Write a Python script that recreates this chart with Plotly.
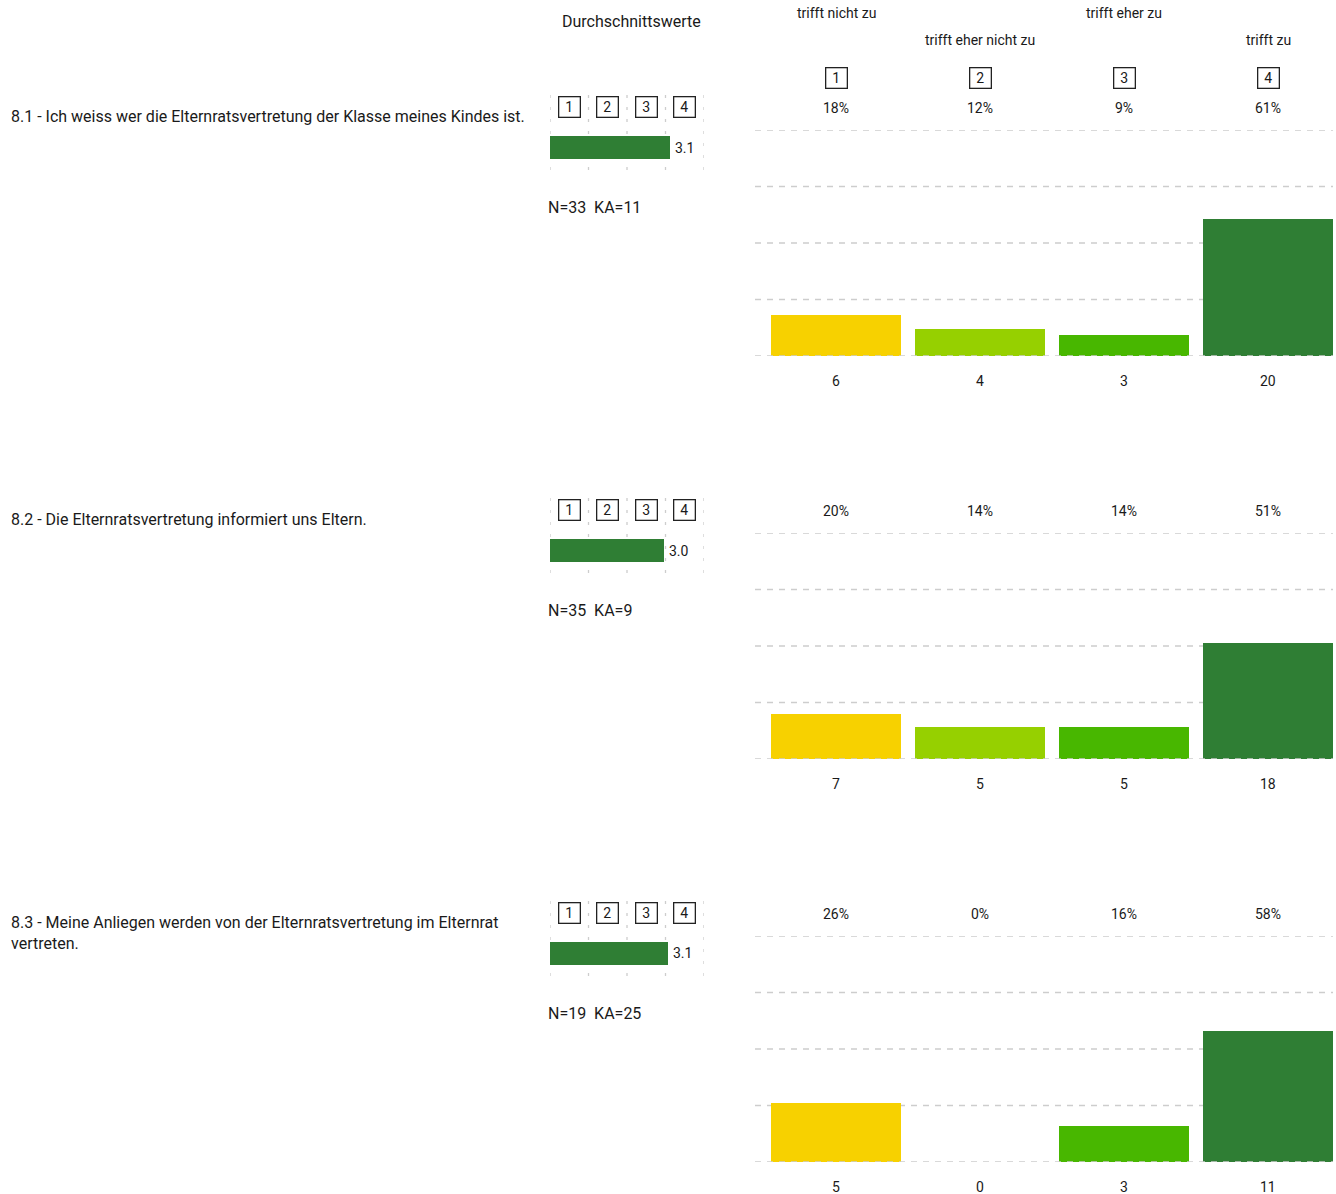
import plotly.graph_objects as go

# Survey data
questions = [
    "8.1 - Ich weiss wer die Elternratsvertretung der Klasse meines Kindes ist.",
    "8.2 - Die Elternratsvertretung informiert uns Eltern.",
    "8.3 - Meine Anliegen werden von der Elternratsvertretung im Elternrat<br>vertreten.",
]
scale_labels = ["trifft nicht zu", "trifft eher nicht zu", "trifft eher zu", "trifft zu"]
scale_codes = ["1", "2", "3", "4"]
counts_q1 = [6, 4, 3, 20]
counts_q2 = [7, 5, 5, 18]
counts_q3 = [5, 0, 3, 11]
no_answer = [11, 9, 25]

all_counts = [counts_q1, counts_q2, counts_q3]
bar_colors = ["#F7D100", "#96D000", "#48B700", "#2F7E34"]
mean_color = "#2F7E34"
text_color = "#1a1a1a"
grid_color = "#cdcdcd"
FONT = "Roboto"

W, H = 1336, 1194


def px_x(x):
    return x / W


def px_y(y):
    return 1 - y / H


fig = go.Figure()
annotations = []
shapes = []

# layout geometry (pixels)
mean_x0, mean_x1 = 550, 704
count_x0, count_x1 = 755, 1336
cat_step = 144
cat_center0 = 836
x_lo = (count_x0 - cat_center0) / cat_step
x_hi = (count_x1 - cat_center0) / cat_step
grid_hi = (1333 - cat_center0) / cat_step
row_tops = [107, 510, 913]

layout_axes = {}

for i, (question, counts, ka) in enumerate(zip(questions, all_counts, no_answer)):
    top = row_tops[i]
    n = sum(counts)
    mean = sum((k + 1) * c for k, c in enumerate(counts)) / n
    pcts = [round(100 * c / n) for c in counts]

    mx = f"x{2 * i + 1}"
    my = f"y{2 * i + 1}"
    cx = f"x{2 * i + 2}"
    cy = f"y{2 * i + 2}"

    # mean bar panel
    m_top, m_bot = top - 12, top + 63
    bar_center = top + 40.5
    fig.add_trace(go.Bar(
        x=[mean], y=[(m_bot - bar_center) / (m_bot - m_top)], base=0,
        width=23 / (m_bot - m_top), orientation="h",
        marker=dict(color=mean_color, line=dict(width=0)),
        xaxis=mx, yaxis=my, hoverinfo="skip", showlegend=False,
    ))
    layout_axes["xaxis" + ("" if i == 0 else str(2 * i + 1))] = dict(
        domain=[px_x(mean_x0), px_x(mean_x1)], range=[0, 4], anchor=my,
        showticklabels=False, ticks="", showgrid=False,
        zeroline=False, showline=False, fixedrange=True,
    )
    layout_axes[f"yaxis{2 * i + 1}" if i > 0 else "yaxis"] = dict(
        domain=[px_y(m_bot), px_y(m_top)], range=[0, 1], anchor=mx,
        showticklabels=False, showgrid=False, zeroline=False, ticks="",
        fixedrange=True,
    )
    for v in range(5):
        shapes.append(dict(
            type="line", xref=mx, yref=my, x0=v, x1=v, y0=0, y1=1,
            line=dict(color=grid_color, width=1.3, dash="3px,9px"), layer="below",
        ))

    # count bar panel
    c_top, c_bot = top + 23, top + 249
    fig.add_trace(go.Bar(
        x=[0, 1, 2, 3], y=counts, width=130 / cat_step,
        marker=dict(color=bar_colors, line=dict(width=0)),
        xaxis=cx, yaxis=cy, hoverinfo="skip", showlegend=False,
    ))
    layout_axes[f"xaxis{2 * i + 2}"] = dict(
        domain=[px_x(count_x0), px_x(count_x1)], range=[x_lo, x_hi], anchor=cy,
        showticklabels=False, showgrid=False, zeroline=False, ticks="",
        fixedrange=True,
    )
    layout_axes[f"yaxis{2 * i + 2}"] = dict(
        domain=[px_y(c_bot), px_y(c_top)], range=[0, n], anchor=cx,
        showticklabels=False, ticks="", showgrid=False,
        zeroline=False, fixedrange=True,
    )
    for v in [0, n / 4, n / 2, 3 * n / 4, n]:
        shapes.append(dict(
            type="line", xref=cx, yref=cy, x0=x_lo, x1=grid_hi, y0=v, y1=v,
            line=dict(color=grid_color, width=1.3, dash="6px,6px"),
            layer="above" if v == 0 else "below",
        ))

    # question text
    annotations.append(dict(
        text=question, x=px_x(9), y=px_y(top - 2), xref="paper", yref="paper",
        xanchor="left", yanchor="top", align="left", showarrow=False,
        font=dict(family=FONT, size=16, color=text_color),
    ))

    # scale boxes above the mean bar
    for k, code in enumerate(scale_codes):
        annotations.append(dict(
            text=code, x=k + 0.5, y=px_y(top), xref=mx, yref="paper",
            xanchor="center", yanchor="middle", showarrow=False,
            width=20, height=19, borderwidth=1.3, bordercolor="#222", borderpad=0,
            font=dict(family=FONT, size=14, color=text_color),
        ))

    # mean value label
    annotations.append(dict(
        text=f"{mean:.1f}", x=mean, y=px_y(bar_center), xref=mx, yref="paper",
        xanchor="left", yanchor="middle", xshift=3, showarrow=False,
        font=dict(family=FONT, size=14, color=text_color),
    ))

    # N / KA line
    annotations.append(dict(
        text=f"N={n}  KA={ka}", x=px_x(546), y=px_y(top + 100), xref="paper", yref="paper",
        xanchor="left", yanchor="middle", showarrow=False,
        font=dict(family=FONT, size=16, color=text_color),
    ))

    # percentages above, counts below
    for k in range(4):
        annotations.append(dict(
            text=f"{pcts[k]}%", x=k, y=px_y(top + 1), xref=cx, yref="paper",
            xanchor="center", yanchor="middle", showarrow=False,
            font=dict(family=FONT, size=14, color=text_color),
        ))
        annotations.append(dict(
            text=str(counts[k]), x=k, y=px_y(c_bot + 25), xref=cx, yref="paper",
            xanchor="center", yanchor="middle", showarrow=False,
            font=dict(family=FONT, size=14, color=text_color),
        ))

# header
annotations.append(dict(
    text="Durchschnittswerte", x=px_x(631), y=px_y(21),
    xref="paper", yref="paper", xanchor="center", yanchor="middle", showarrow=False,
    font=dict(family=FONT, size=16, color=text_color),
))
for k, (label, code) in enumerate(zip(scale_labels, scale_codes)):
    annotations.append(dict(
        text=label, x=k, y=px_y(13 if k % 2 == 0 else 40), xref="x2", yref="paper",
        xanchor="center", yanchor="middle", showarrow=False,
        font=dict(family=FONT, size=14, color=text_color),
    ))
    annotations.append(dict(
        text=code, x=k, y=px_y(78), xref="x2", yref="paper",
        xanchor="center", yanchor="middle", showarrow=False,
        width=20, height=19, borderwidth=1.3, bordercolor="#222", borderpad=0,
        font=dict(family=FONT, size=14, color=text_color),
    ))

fig.update_layout(
    width=W, height=H, margin=dict(l=0, r=0, t=0, b=0),
    paper_bgcolor="white", plot_bgcolor="white",
    bargap=0, annotations=annotations, shapes=shapes, showlegend=False,
    font=dict(family=FONT, color=text_color),
    **layout_axes,
)

fig.write_html("out.html", config={"displayModeBar": False})
